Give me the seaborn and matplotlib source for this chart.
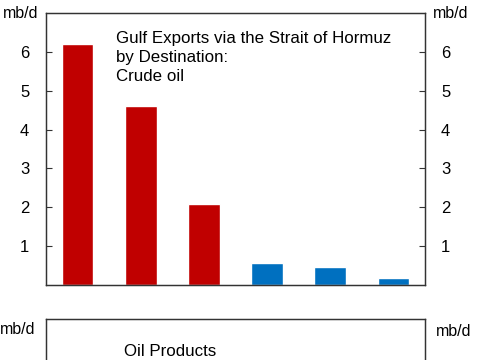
import matplotlib
matplotlib.use("Agg")
import matplotlib.pyplot as plt
import seaborn as sns
import pandas as pd

# Crude oil exports via the Strait of Hormuz by destination (mb/d)
destinations = ["China", "India", "Japan", "Europe", "United States", "Other"]
crude_mbd = [6.2, 4.6, 2.08, 0.56, 0.46, 0.19]
region = ["Asia", "Asia", "Asia", "Non-Asia", "Non-Asia", "Non-Asia"]
region_colors = {"Asia": "#C00000", "Non-Asia": "#0070C0"}
y_ticks = [1, 2, 3, 4, 5, 6]

sns.set_style("white")
plt.rcParams["font.family"] = ["Liberation Sans", "DejaVu Sans"]
plt.rcParams["text.color"] = "black"
plt.rcParams["ytick.color"] = "black"


def style_panel(ax, ax_r):
    for a in (ax, ax_r):
        for sp in a.spines.values():
            sp.set_color("#333333")
            sp.set_linewidth(0.9)


def main():
    df = pd.DataFrame({"dest": destinations, "crude": crude_mbd, "region": region})

    fig = plt.figure(figsize=(4.85, 3.6), dpi=100)

    # top panel: crude oil
    ax = fig.add_axes([46 / 485, 75 / 360, 379 / 485, 272 / 360])
    sns.barplot(data=df, x="dest", y="crude", hue="region", palette=region_colors,
                width=0.5, dodge=False, legend=False, saturation=1, ax=ax)
    ax.set_xlim(-0.5, 5.5)
    ax.set_ylim(0, 7)
    ax.set_xticks([])
    ax.set_xlabel("")
    ax.set_ylabel("")
    ax.set_yticks(y_ticks)
    ax.tick_params(axis="y", direction="in", length=4, pad=12, labelsize=12,
                   color="#333333", labelcolor="black")
    ax_r = ax.twinx()
    ax_r.set_ylim(ax.get_ylim())
    ax_r.set_yticks(y_ticks)
    ax_r.tick_params(axis="y", direction="in", length=4, pad=11.5, labelsize=12,
                     color="#333333", labelcolor="black")
    style_panel(ax, ax_r)
    ax.text(-0.021, 1.0, "mb/d", transform=ax.transAxes, ha="right", va="center",
            fontsize=11.5)
    ax.text(1.021, 1.0, "mb/d", transform=ax.transAxes, ha="left", va="center",
            fontsize=11.5)
    ax.text(0.184, 0.932, "Gulf Exports via the Strait of Hormuz\nby Destination:\nCrude oil",
            transform=ax.transAxes, ha="left", va="top", fontsize=12.2, linespacing=1.3)

    # bottom panel: oil products (mostly outside the visible area)
    ax2 = fig.add_axes([46 / 485, -231 / 360, 379 / 485, 272 / 360])
    ax2.set_xticks([])
    ax2.set_yticks([])
    ax2_r = ax2.twinx()
    ax2_r.set_yticks([])
    style_panel(ax2, ax2_r)
    ax2.text(-0.029, 1 - 10 / 272, "mb/d", transform=ax2.transAxes, ha="right",
             va="center", fontsize=11.5)
    ax2.text(1.03, 1 - 12 / 272, "mb/d", transform=ax2.transAxes, ha="left",
             va="center", fontsize=11.5)
    ax2.text(0.205, 1 - 32 / 272, "Oil Products", transform=ax2.transAxes,
             ha="left", va="center", fontsize=12.2)

    fig.savefig("out.png", dpi=100)


if __name__ == "__main__":
    main()
